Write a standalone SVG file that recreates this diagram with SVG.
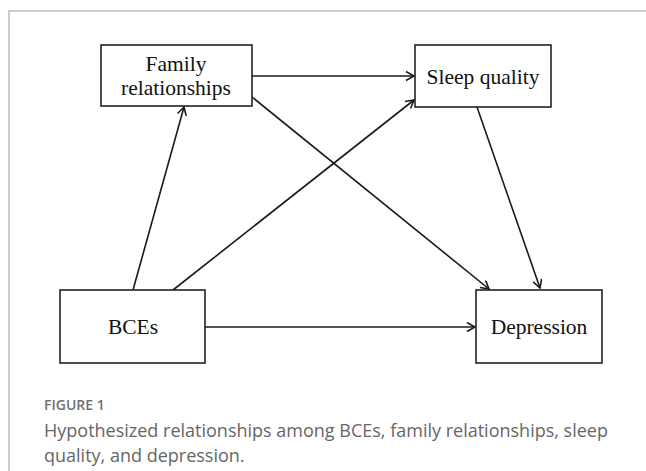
<svg xmlns="http://www.w3.org/2000/svg" width="646" height="471" viewBox="0 0 646 471">
  <style>
    .box { fill: #ffffff; stroke: #222222; stroke-width: 1.6; }
    .lbl { font-family: "Liberation Serif", "Times New Roman", serif; font-size: 21.5px; fill: #111111; text-anchor: middle; }
    .edge { stroke: #1a1a1a; stroke-width: 1.6; fill: none; marker-end: url(#arr); }
    .frame { stroke: #bdbdbd; stroke-width: 1.5; fill: none; }
    .fig { font-family: "Open Sans", "Liberation Sans", sans-serif; font-size: 14px; font-weight: 600; fill: #707070; }
    .cap { font-family: "Open Sans", "Liberation Sans", sans-serif; font-size: 18px; fill: #666666; }
  </style>
  <defs>
    <marker id="arr" markerWidth="12" markerHeight="12" refX="9" refY="5" orient="auto" markerUnits="userSpaceOnUse">
      <path d="M1,0.5 L9,5 L1,9.5" fill="none" stroke="#1a1a1a" stroke-width="1.6"/>
    </marker>
  </defs>
  <rect width="646" height="471" fill="#ffffff"/>
  <path class="frame" d="M9,471 L9,11 L646,11"/>

  <g id="connectors">
    <line class="edge" x1="252" y1="76" x2="414" y2="76"/>
    <line class="edge" x1="252" y1="97" x2="489" y2="289"/>
    <line class="edge" x1="477" y1="107" x2="540" y2="288"/>
    <line class="edge" x1="133" y1="290" x2="184" y2="107"/>
    <line class="edge" x1="173" y1="290" x2="414" y2="100"/>
    <line class="edge" x1="205" y1="327" x2="475" y2="327"/>
  </g>

  <g id="family">
    <rect class="box" x="101" y="45" width="151" height="61"/>
    <text class="lbl" x="176" y="71">Family</text>
    <text class="lbl" x="176" y="95">relationships</text>
  </g>
  <g id="sleep">
    <rect class="box" x="415" y="45" width="136" height="62"/>
    <text class="lbl" x="483" y="84">Sleep quality</text>
  </g>
  <g id="bces">
    <rect class="box" x="60" y="290" width="145" height="73"/>
    <text class="lbl" x="133" y="334">BCEs</text>
  </g>
  <g id="depression">
    <rect class="box" x="476" y="290" width="126" height="73"/>
    <text class="lbl" x="539" y="334">Depression</text>
  </g>

  <g id="caption">
    <text class="fig" x="44" y="410">FIGURE 1</text>
    <text class="cap" x="44" y="437">Hypothesized relationships among BCEs, family relationships, sleep</text>
    <text class="cap" x="44" y="462">quality, and depression.</text>
  </g>
</svg>
